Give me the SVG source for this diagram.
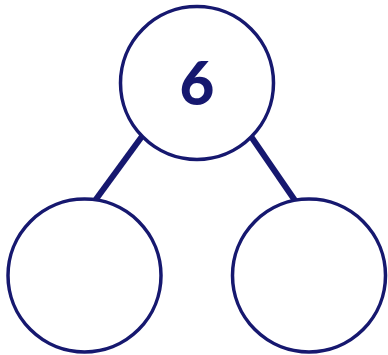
<svg xmlns="http://www.w3.org/2000/svg" width="388" height="355" viewBox="0 0 388 355">
<style>
.node{fill:#ffffff;stroke:#16186f;stroke-width:3.5}
.conn{stroke:#16186f;stroke-width:6;fill:none}
.lbl{font-family:Lato,"Open Sans",sans-serif;font-weight:900;font-size:60px;fill:#16186f;text-anchor:middle}
</style>
<rect width="388" height="355" fill="#ffffff"/>
<g id="connectors">
<line class="conn" x1="143" y1="135" x2="94" y2="202"/>
<line class="conn" x1="250" y1="135" x2="296" y2="202"/>
</g>
<g id="top">
<circle class="node" cx="197" cy="83" r="76.5"/>
<text class="lbl" x="197" y="105">6</text>
</g>
<g id="left">
<circle class="node" cx="84.5" cy="275.5" r="76.5"/>
</g>
<g id="right">
<circle class="node" cx="309" cy="275.5" r="76.5"/>
</g>
</svg>
